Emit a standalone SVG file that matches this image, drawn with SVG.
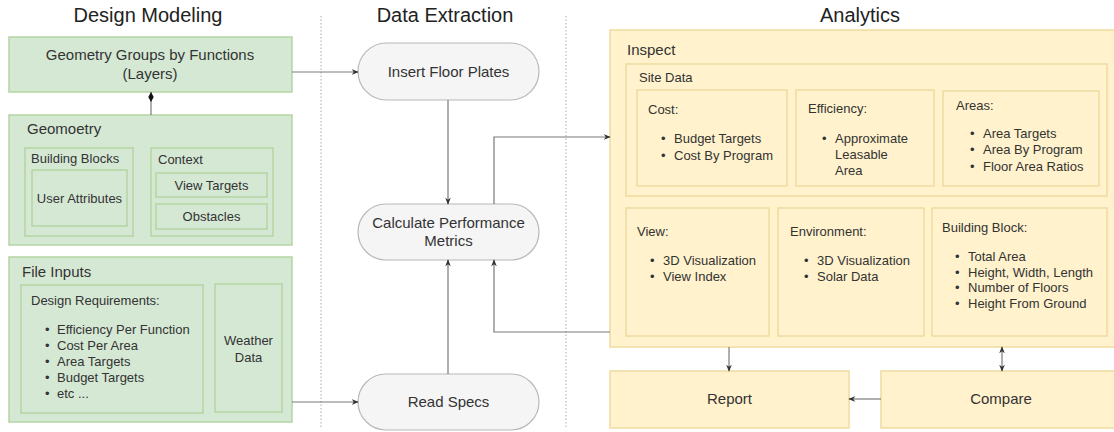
<svg xmlns="http://www.w3.org/2000/svg" width="1114" height="432" viewBox="0 0 1114 432">
<defs>
<style>
text{font-family:"Liberation Sans",Arial,sans-serif;fill:#333;}
.t{font-size:20px;fill:#222;text-anchor:middle;}
.l{font-size:15px;}
.s{font-size:13px;}
.c{text-anchor:middle;}
.g{fill:#d5e8d4;stroke:#b5d5a3;stroke-width:1.5;}
.y{fill:#fff2cc;stroke:#f0dba0;stroke-width:1.5;}
.p{fill:#f5f5f5;stroke:#b8b8b8;stroke-width:1.2;}
.e{fill:none;stroke:#7a7a7a;stroke-width:1.2;}
.d{fill:none;stroke:#aaa;stroke-width:1;stroke-dasharray:1.5,2;}
</style>
<marker id="a" viewBox="0 0 10 10" refX="9" refY="5" markerWidth="7" markerHeight="7" markerUnits="userSpaceOnUse" orient="auto-start-reverse"><path d="M0,1 L10,5 L0,9 L3,5 Z" fill="#333"/></marker>
<marker id="dm" viewBox="0 0 10 6" refX="10" refY="3" markerWidth="10" markerHeight="6" markerUnits="userSpaceOnUse" orient="auto"><path d="M0,3 L5,0.3 L10,3 L5,5.7 Z" fill="#111"/></marker>
</defs>

<g id="titles">
<text class="t" x="148" y="22">Design Modeling</text>
<text class="t" x="445" y="22">Data Extraction</text>
<text class="t" x="860" y="22">Analytics</text>
</g>

<g id="dividers">
<line class="d" x1="321" y1="16" x2="321" y2="427"/>
<line class="d" x1="566" y1="16" x2="566" y2="427"/>
</g>

<g id="geometry-groups">
<rect class="g" x="9" y="37" width="283" height="55"/>
<text class="l c" x="150" y="60">Geometry Groups by Functions</text>
<text class="l c" x="150" y="79">(Layers)</text>
</g>

<g id="geometry">
<rect class="g" x="9" y="115" width="283" height="130"/>
<text class="l" x="27" y="134">Geomoetry</text>
<g id="building-blocks">
<rect class="g" x="25" y="148" width="108" height="88"/>
<text class="s" x="31" y="163">Building Blocks</text>
<rect class="g" x="32" y="170" width="95" height="56"/>
<text class="s c" x="79.5" y="203">User Attributes</text>
</g>
<g id="context">
<rect class="g" x="151" y="148" width="122" height="88"/>
<text class="s" x="158" y="164">Context</text>
<rect class="g" x="156" y="173" width="111" height="24"/>
<text class="s c" x="211.5" y="190">View Targets</text>
<rect class="g" x="156" y="204" width="111" height="25"/>
<text class="s c" x="211.5" y="221">Obstacles</text>
</g>
</g>

<g id="file-inputs">
<rect class="g" x="9" y="257" width="283" height="165"/>
<text class="l" x="22" y="277">File Inputs</text>
<g id="design-requirements">
<rect class="g" x="21" y="285" width="182" height="128"/>
<text class="s" x="31" y="305">Design Requirements:</text>
<text class="s"><tspan x="45" y="334">•</tspan><tspan x="57">Efficiency Per Function</tspan></text>
<text class="s"><tspan x="45" y="350">•</tspan><tspan x="57">Cost Per Area</tspan></text>
<text class="s"><tspan x="45" y="366">•</tspan><tspan x="57">Area Targets</tspan></text>
<text class="s"><tspan x="45" y="382">•</tspan><tspan x="57">Budget Targets</tspan></text>
<text class="s"><tspan x="45" y="398">•</tspan><tspan x="57">etc ...</tspan></text>
</g>
<g id="weather-data">
<rect class="g" x="215" y="284" width="67" height="128"/>
<text class="s c" x="248.5" y="345">Weather</text>
<text class="s c" x="248.5" y="362">Data</text>
</g>
</g>

<g id="insert-floor-plates">
<rect class="p" x="358" y="43" width="181" height="57" rx="28.5"/>
<text class="l c" x="448.5" y="77">Insert Floor Plates</text>
</g>
<g id="calculate-performance-metrics">
<rect class="p" x="358" y="204" width="181" height="56" rx="28"/>
<text class="l c" x="448.5" y="228">Calculate Performance</text>
<text class="l c" x="448.5" y="246">Metrics</text>
</g>
<g id="read-specs">
<rect class="p" x="358" y="374" width="181" height="56" rx="28"/>
<text class="l c" x="448.5" y="407">Read Specs</text>
</g>

<g id="inspect">
<rect class="y" x="610" y="30" width="511" height="317"/>
<text class="l" x="627" y="55">Inspect</text>
<g id="site-data">
<rect class="y" x="626" y="64" width="481" height="132"/>
<text class="s" x="639" y="82">Site Data</text>
<g id="cost">
<rect class="y" x="637" y="90" width="150" height="96"/>
<text class="s" x="648" y="114">Cost:</text>
<text class="s"><tspan x="661" y="143">•</tspan><tspan x="674">Budget Targets</tspan></text>
<text class="s"><tspan x="661" y="160">•</tspan><tspan x="674">Cost By Program</tspan></text>
</g>
<g id="efficiency">
<rect class="y" x="796" y="90" width="138" height="96"/>
<text class="s" x="808" y="113">Efficiency:</text>
<text class="s"><tspan x="822" y="143">•</tspan><tspan x="835">Approximate</tspan></text>
<text class="s" x="835" y="159">Leasable</text>
<text class="s" x="835" y="175">Area</text>
</g>
<g id="areas">
<rect class="y" x="943" y="91" width="156" height="95"/>
<text class="s" x="956" y="110">Areas:</text>
<text class="s"><tspan x="970" y="138">•</tspan><tspan x="983">Area Targets</tspan></text>
<text class="s"><tspan x="970" y="154">•</tspan><tspan x="983">Area By Program</tspan></text>
<text class="s"><tspan x="970" y="171">•</tspan><tspan x="983">Floor Area Ratios</tspan></text>
</g>
</g>
<g id="view">
<rect class="y" x="626" y="208" width="143" height="128"/>
<text class="s" x="637" y="236">View:</text>
<text class="s"><tspan x="650" y="265">•</tspan><tspan x="663">3D Visualization</tspan></text>
<text class="s"><tspan x="650" y="281">•</tspan><tspan x="663">View Index</tspan></text>
</g>
<g id="environment">
<rect class="y" x="778" y="208" width="146" height="128"/>
<text class="s" x="790" y="236">Environment:</text>
<text class="s"><tspan x="804" y="265">•</tspan><tspan x="817">3D Visualization</tspan></text>
<text class="s"><tspan x="804" y="281">•</tspan><tspan x="817">Solar Data</tspan></text>
</g>
<g id="building-block">
<rect class="y" x="932" y="208" width="175" height="128"/>
<text class="s" x="942" y="232">Building Block:</text>
<text class="s"><tspan x="955" y="261">•</tspan><tspan x="968">Total Area</tspan></text>
<text class="s"><tspan x="955" y="277">•</tspan><tspan x="968">Height, Width, Length</tspan></text>
<text class="s"><tspan x="955" y="292">•</tspan><tspan x="968">Number of Floors</tspan></text>
<text class="s"><tspan x="955" y="308">•</tspan><tspan x="968">Height From Ground</tspan></text>
</g>
</g>

<g id="report">
<rect class="y" x="610" y="371" width="239" height="57"/>
<text class="l c" x="729.5" y="404">Report</text>
</g>
<g id="compare">
<rect class="y" x="881" y="371" width="240" height="57"/>
<text class="l c" x="1001" y="404">Compare</text>
</g>

<g id="connectors">
<path class="e" d="M151,115 L151,92" marker-end="url(#dm)"/>
<path class="e" d="M292,72 L358,72" marker-end="url(#a)"/>
<path class="e" d="M292,402 L358,402" marker-end="url(#a)"/>
<path class="e" d="M448,100 L448,204" marker-end="url(#a)"/>
<path class="e" d="M448,374 L448,260" marker-end="url(#a)"/>
<path class="e" d="M494,204 L494,137 L610,137" marker-end="url(#a)"/>
<path class="e" d="M610,332 L494,332 L494,260" marker-end="url(#a)"/>
<path class="e" d="M729,347 L729,371" marker-end="url(#a)"/>
<path class="e" d="M1002,347 L1002,371" marker-start="url(#a)" marker-end="url(#a)"/>
<path class="e" d="M881,399 L849,399" marker-end="url(#a)"/>
</g>
</svg>
